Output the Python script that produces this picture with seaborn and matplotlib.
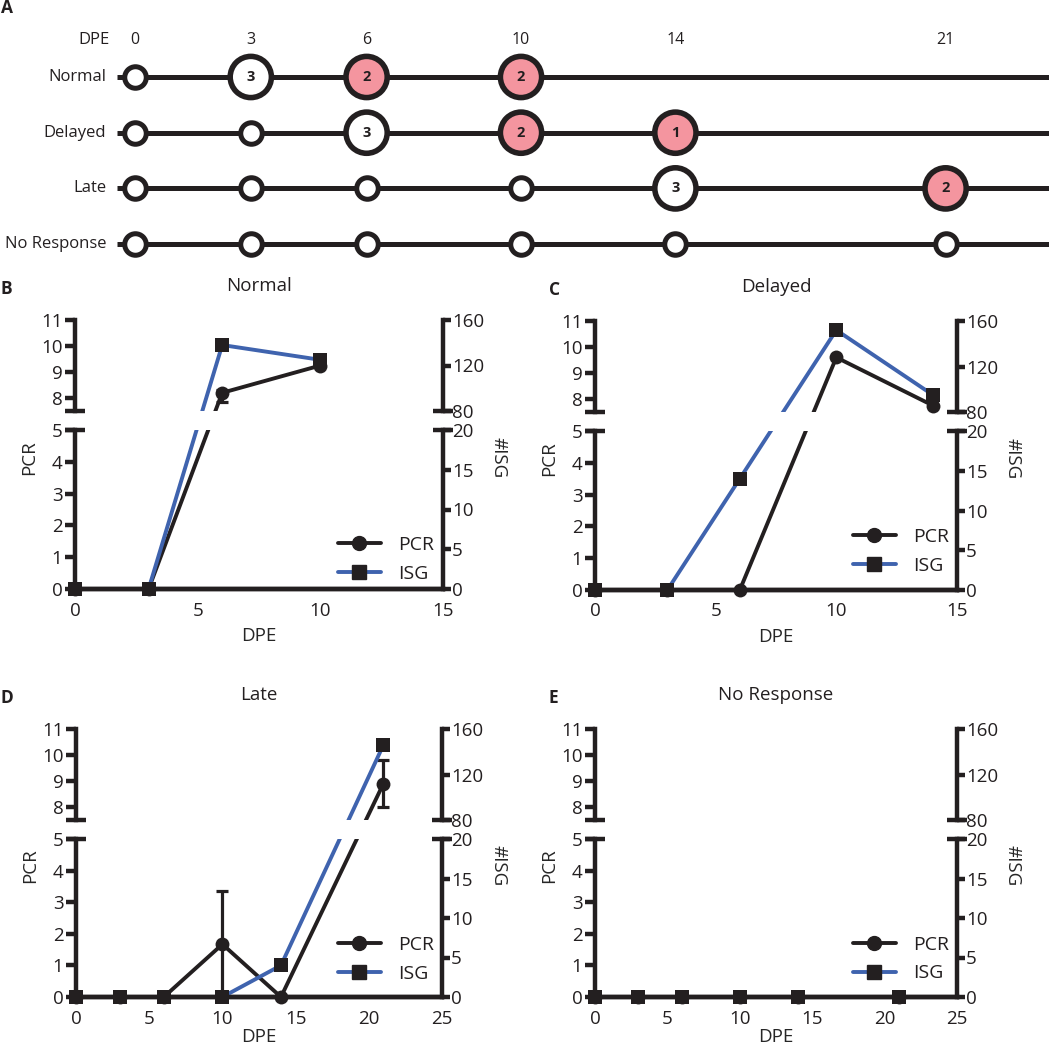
"""Sampling timeline and PCR / #ISG kinetics per response group (panels A-E)."""
import numpy as np
import pandas as pd
import seaborn as sns
import matplotlib.pyplot as plt
from matplotlib.lines import Line2D

# ---------- data ----------
# panel A: sampling timeline (n = animals per time point, pos = PCR positive)
row_names = ["Normal", "Delayed", "Late", "No Response"]
header_dpe = [0, 3, 6, 10, 14, 21]
tl_row = [0, 0, 0, 0, 1, 1, 1, 1, 1, 2, 2, 2, 2, 2, 2, 3, 3, 3, 3, 3, 3]
tl_dpe = [0, 3, 6, 10, 0, 3, 6, 10, 14, 0, 3, 6, 10, 14, 21, 0, 3, 6, 10, 14, 21]
tl_n = [0, 3, 2, 2, 0, 0, 3, 2, 1, 0, 0, 0, 0, 3, 2, 0, 0, 0, 0, 0, 0]
tl_pos = [0, 0, 1, 1, 0, 0, 0, 1, 1, 0, 0, 0, 0, 0, 1, 0, 0, 0, 0, 0, 0]

# panels B-E: PCR (left axis) and #ISG (right axis)
normal_dpe = [0, 3, 6, 10]
normal_pcr = [0, 0, 8.2, 9.25]
normal_err_lo = [0, 0, 0.35, 0]
normal_err_hi = [0, 0, 0.1, 0]
normal_isg = [0, 0, 138, 125]

delayed_dpe = [0, 3, 6, 10, 14]
delayed_pcr = [0, 0, 0, 9.6, 7.75]
delayed_err = [0, 0, 0, 0, 0]
delayed_isg = [0, 0, 14, 152, 95]

late_dpe = [0, 3, 6, 10, 14, 21]
late_pcr = [0, 0, 0, 1.67, 0, 8.9]
late_err = [0, 0, 0, 1.67, 0, 0.9]
late_isg = [0, 0, 0, 0, 4, 146]

noresp_dpe = [0, 3, 6, 10, 14, 21]
noresp_pcr = [0, 0, 0, 0, 0, 0]
noresp_err = [0, 0, 0, 0, 0, 0]
noresp_isg = [0, 0, 0, 0, 0, 0]

# ---------- style ----------
W, H = 1049, 1050
DARK = "#231f20"
BLUE = "#3f63ae"
PINK = "#f4959f"
LW = 3.2
FS = 13.5

sns.set_style("white")
plt.rcParams["font.family"] = ["Open Sans", "DejaVu Sans"]
plt.rcParams["text.color"] = DARK

fig = plt.figure(figsize=(W / 100, H / 100), dpi=100)


def box(x0, y0, x1, y1):
    """pixel box (top-left origin) -> figure fraction rect"""
    return [x0 / W, 1 - y1 / H, (x1 - x0) / W, (y1 - y0) / H]


def cap(ax, y, side, width_px, half_px=10):
    # short bar across the spine marking the axis break
    c = 0 if side == "left" else 1
    d = half_px / width_px
    ax.plot([c - d, c + d], [y, y], transform=ax.get_yaxis_transform(),
            color=DARK, lw=LW, solid_capstyle="butt", clip_on=False, zorder=5)


def broken_scale(lo_max, hi_min, hi_max, hl, hb, ht):
    """piecewise-linear value -> pixel height, shared by both halves of a broken axis"""
    def fwd(v):
        v = np.asarray(v, dtype=float)
        return np.where(v <= lo_max, v / lo_max * hl,
                        np.where(v >= hi_min, hb + (v - hi_min) / (hi_max - hi_min) * (ht - hb),
                                 hl + (v - lo_max) / (hi_min - lo_max) * (hb - hl)))

    def inv(h):
        h = np.asarray(h, dtype=float)
        return np.where(h <= hl, h / hl * lo_max,
                        np.where(h >= hb, hi_min + (h - hb) / (ht - hb) * (hi_max - hi_min),
                                 lo_max + (h - hl) / (hb - hl) * (hi_min - lo_max)))
    return fwd, inv


# ---------- panel A ----------
ax_a = fig.add_axes(box(0, 20, W, 270))
ax_a.set_xlim(-135 / 38.6, (W - 135) / 38.6)
ax_a.set_ylim(3.465, -1.023)
ax_a.axis("off")

tl = pd.DataFrame({"row": tl_row, "dpe": tl_dpe, "n": tl_n, "pos": tl_pos})
ax_a.hlines(range(len(row_names)), -0.47, 24, color=DARK, lw=3.6, zorder=1)
small = tl[tl["n"] == 0]
big = tl[tl["n"] > 0]
sns.scatterplot(data=small, x="dpe", y="row", ax=ax_a, s=240, color="white",
                edgecolor=DARK, linewidth=3.6, zorder=3, legend=False)
sns.scatterplot(data=big, x="dpe", y="row", hue="pos", palette={0: "white", 1: PINK},
                ax=ax_a, s=880, edgecolor=DARK, linewidth=4.0, zorder=3, legend=False)
for _, r in big.iterrows():
    ax_a.text(r["dpe"], r["row"], str(r["n"]), ha="center", va="center",
              fontsize=10.5, fontweight="bold", zorder=4)
for i, name in enumerate(row_names):
    ax_a.text(-0.75, i, name, ha="right", va="center", fontsize=12)
ax_a.text(-0.65, -0.664, "DPE", ha="right", va="center", fontsize=12)
for d in header_dpe:
    ax_a.text(d, -0.664, str(d), ha="center", va="center", fontsize=11.5)
fig.text(1 / W, 1 - 13 / H, "A", fontsize=12.5, fontweight="bold", va="baseline")


# ---------- panels B-E ----------
def panel(left, right, top, bottom, letter, lx, title, dpe, pcr, err_lo, err_hi,
          isg, xmax, leg_x, leg_y, xlab_off):
    w = right - left
    brk_hi, brk_lo = top + 91, top + 110
    hl, hb, ht = bottom - brk_lo, bottom - brk_hi, bottom - top
    ax_hi = fig.add_axes(box(left, top, right, brk_hi))
    ax_lo = fig.add_axes(box(left, brk_lo, right, bottom))
    tw_hi, tw_lo = ax_hi.twinx(), ax_lo.twinx()
    df = pd.DataFrame({"DPE": dpe, "PCR": pcr, "ISG": isg, "lo": err_lo, "hi": err_hi})

    pcr_scale = broken_scale(5, 7.5, 11, hl, hb, ht)
    isg_scale = broken_scale(20, 80, 160, hl, hb, ht)

    segs = [(ax_hi, tw_hi, (7.5, 11), (80, 160), [8, 9, 10, 11], [80, 120, 160], False),
            (ax_lo, tw_lo, (0, 5), (0, 20), list(range(6)), [0, 5, 10, 15, 20], True)]
    for ax, tw, plim, ilim, pticks, iticks, is_lo in segs:
        ax.set_yscale("function", functions=pcr_scale)
        tw.set_yscale("function", functions=isg_scale)
        ax.set_xlim(0, xmax)
        ax.set_ylim(*plim)
        tw.set_ylim(*ilim)

        sns.lineplot(data=df, x="DPE", y="PCR", ax=ax, color=DARK, lw=2.8,
                     sort=False, estimator=None, zorder=2)
        sns.lineplot(data=df, x="DPE", y="ISG", ax=tw, color=BLUE, lw=2.8,
                     sort=False, estimator=None, zorder=2)
        eb = df[(df["lo"] > 0) | (df["hi"] > 0)]
        if len(eb):
            ax.errorbar(eb["DPE"], eb["PCR"], yerr=[eb["lo"], eb["hi"]], fmt="none",
                        ecolor=DARK, elinewidth=2.3, capsize=4.5, capthick=2.3, zorder=3)
        p_in = df[(df["PCR"] >= plim[0]) & (df["PCR"] <= plim[1])]
        i_in = df[(df["ISG"] >= ilim[0]) & (df["ISG"] <= ilim[1])]
        if len(p_in):
            sns.scatterplot(data=p_in, x="DPE", y="PCR", ax=ax, marker="o", s=100,
                            color=DARK, linewidth=0, clip_on=False, zorder=4)
        if len(i_in):
            sns.scatterplot(data=i_in, x="DPE", y="ISG", ax=tw, marker="s", s=110,
                            color=DARK, linewidth=0, clip_on=False, zorder=4)

        for a in (ax, tw):
            a.set_xlabel("")
            a.set_ylabel("")
            for s in a.spines.values():
                s.set_linewidth(LW)
                s.set_color(DARK)
            a.spines["top"].set_visible(False)
            a.spines["bottom"].set_visible(is_lo)
        ax.spines["right"].set_visible(False)
        tw.spines["left"].set_visible(False)

        ax.set_yticks(pticks, [str(t) for t in pticks])
        tw.set_yticks(iticks, [str(t) for t in iticks])
        ax.minorticks_off()
        tw.minorticks_off()
        ax.tick_params(axis="y", direction="out", length=7.5, width=LW, pad=1.5,
                       labelsize=FS, color=DARK, labelcolor=DARK)
        tw.tick_params(axis="y", direction="out", length=5.5, width=LW, pad=1,
                       labelsize=FS, color=DARK, labelcolor=DARK)
        if is_lo:
            ax.set_xticks(list(range(0, xmax + 1, 5)))
            ax.tick_params(axis="x", direction="out", length=7.5, width=LW, pad=1.5,
                           labelsize=FS, color=DARK, labelcolor=DARK)
        else:
            ax.tick_params(axis="x", bottom=False, labelbottom=False)

    cap(ax_hi, 7.5, "left", w)
    cap(tw_hi, 80, "right", w)
    cap(ax_lo, 5, "left", w)
    cap(tw_lo, 20, "right", w)

    ymid = (bottom - ((top + bottom) / 2 + 3)) / hl
    ax_lo.set_xlabel("DPE", fontsize=FS, va="center")
    ax_lo.xaxis.set_label_coords(0.5, -xlab_off / hl)
    ax_lo.set_ylabel("PCR", fontsize=FS, va="center")
    ax_lo.yaxis.set_label_coords(-46 / w, ymid)
    tw_lo.set_ylabel("#ISG", fontsize=FS, rotation=270, va="center")
    tw_lo.yaxis.set_label_coords(1 + 56 / w, ymid)

    ax_hi.set_title(title, fontsize=FS, pad=21, color=DARK)
    fig.text(lx / W, 1 - (top - 26) / H, letter, fontsize=12.5, fontweight="bold",
             va="baseline")

    handles = [Line2D([], [], color=DARK, lw=2.8, marker="o", ms=10, mec=DARK, mfc=DARK),
               Line2D([], [], color=BLUE, lw=2.8, marker="s", ms=10.5, mec=DARK, mfc=DARK)]
    tw_lo.legend(handles, ["PCR", "ISG"], loc="center left",
                 bbox_to_anchor=(leg_x / W, 1 - leg_y / H), bbox_transform=fig.transFigure,
                 frameon=False, fontsize=14, handlelength=2.2, handletextpad=0.9,
                 labelspacing=0.55, borderpad=0, borderaxespad=0)


panel(75, 443, 320, 589, "B", 1, "Normal", normal_dpe, normal_pcr,
      normal_err_lo, normal_err_hi, normal_isg, 15, 338, 559.5, 47)
panel(595, 957, 321, 590, "C", 549, "Delayed", delayed_dpe, delayed_pcr,
      delayed_err, delayed_err, delayed_isg, 15, 853, 551.5, 47)
panel(76, 442, 729, 997, "D", 1, "Late", late_dpe, late_pcr,
      late_err, late_err, late_isg, 25, 338, 959.5, 40)
panel(595, 957, 729, 997, "E", 548, "No Response", noresp_dpe, noresp_pcr,
      noresp_err, noresp_err, noresp_isg, 25, 853, 959, 40)

fig.savefig("out.png", dpi=100)
